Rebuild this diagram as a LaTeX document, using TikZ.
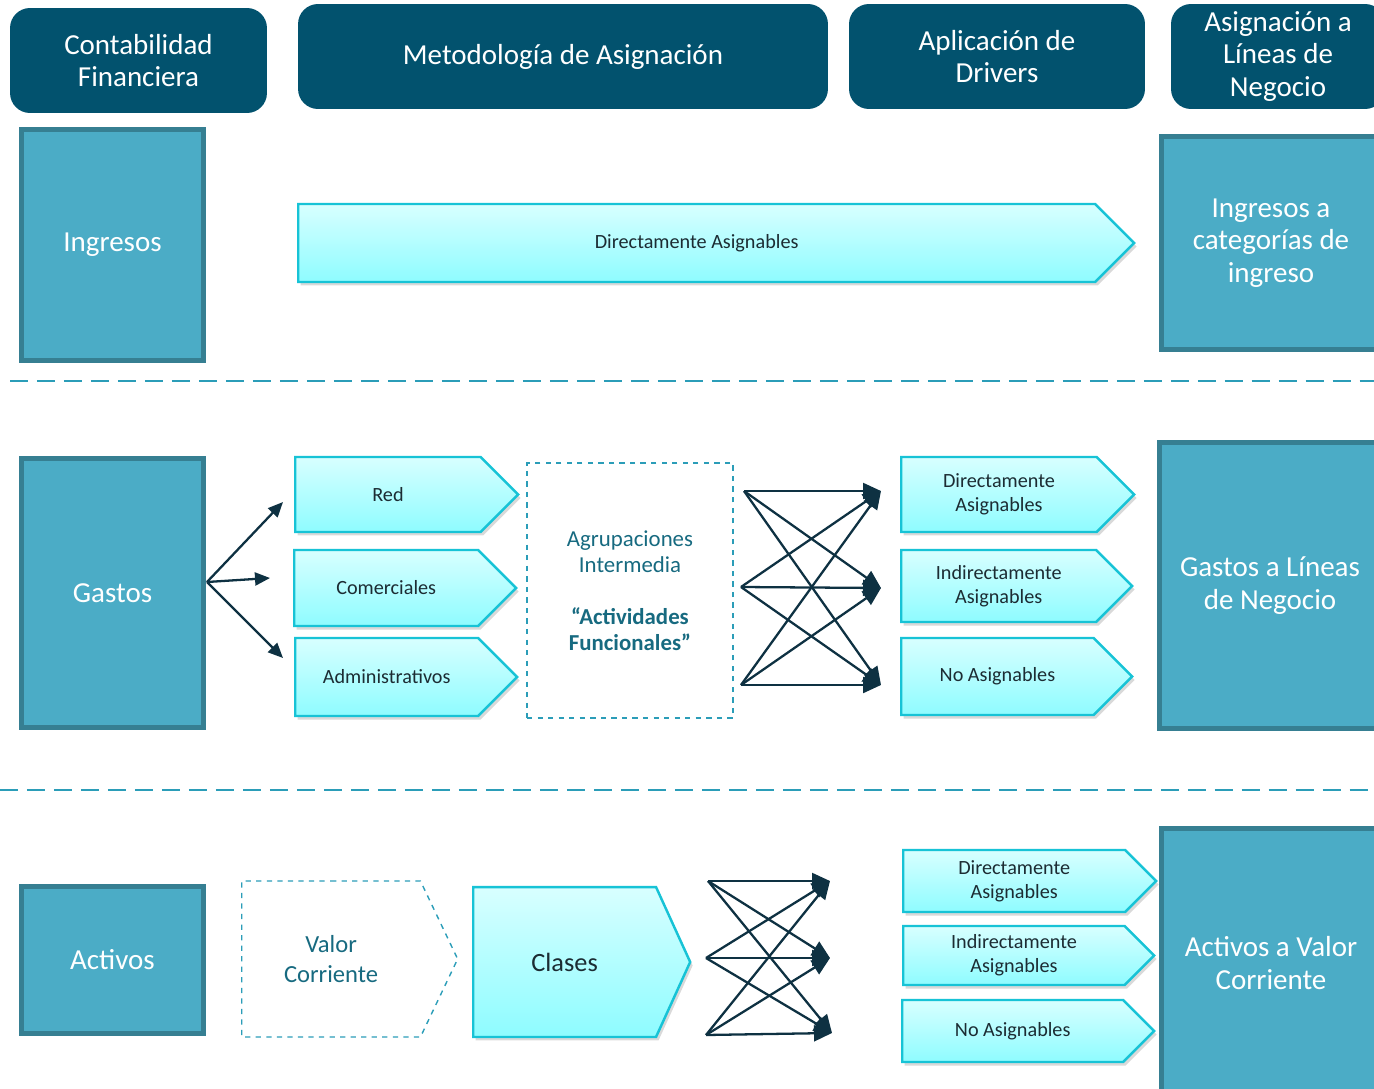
\documentclass[tikz,border=0pt]{standalone}
\usepackage{fontspec}
\setmainfont{Carlito}
\usetikzlibrary{positioning, arrows.meta, shapes.symbols, shadows}
\definecolor{hdrblue}{HTML}{02526E}
\definecolor{srcfill}{HTML}{4BACC6}
\definecolor{srcline}{HTML}{367F92}
\definecolor{tagline}{HTML}{17C3D6}
\definecolor{tagtop}{HTML}{D8FFFF}
\definecolor{tagbot}{HTML}{8EFCFF}
\definecolor{sepline}{HTML}{2B9DB8}
\definecolor{grptext}{HTML}{176A80}
\definecolor{lnkcol}{HTML}{0E3142}
\definecolor{tagtext}{HTML}{1C2C33}

\begin{document}
\begin{tikzpicture}[
  x=0.02cm, y=-0.02cm,
  hdr/.style={fill=hdrblue, rounded corners=0.4cm, text=white, align=center,
              minimum height=2.1cm, inner sep=0pt,
              font=\fontsize{16.5}{18.5}\selectfont},
  src/.style={draw=srcline, line width=2.6pt, fill=srcfill, text=white,
              align=center, inner sep=0pt,
              font=\fontsize{16.5}{18.5}\selectfont},
  tag/.style={shape=signal, signal to=east, signal pointer angle=90,
              anchor=west, draw=tagline, line width=1.4pt, top color=tagtop,
              bottom color=tagbot, text=tagtext, align=center, inner sep=0pt,
              font=\fontsize{11.5}{13.6}\selectfont,
              drop shadow={shadow xshift=0.05cm, shadow yshift=-0.07cm,
                           opacity=0.3}},
  grp/.style={draw=sepline, dashed, line width=0.8pt, text=grptext,
              align=center, inner sep=0pt},
  lnk/.style={draw=lnkcol, line width=1.3pt,
              -{Triangle[length=0.36cm, width=0.32cm]}},
  fan/.style={draw=lnkcol, line width=1.3pt,
              -{Triangle[length=0.3cm, width=0.26cm]}},
  sep/.style={draw=sepline, line width=1.6pt,
              dash pattern=on 0.36cm off 0.18cm}
]
  \path[use as bounding box, clip] (0,0) rectangle (1374,1089);

  % Headers
  \node[hdr, minimum width=5.14cm] (hcf) at (138.5,60.5)
    {Contabilidad\\Financiera};
  \node[hdr, minimum width=10.6cm] (hma) at (563,56.5)
    {Metodología de Asignación};
  \node[hdr, minimum width=5.92cm] (had) at (997,56.5)
    {Aplicación de\\Drivers};
  \node[hdr, minimum width=4.28cm] (hal) at (1278,56.5)
    {Asignación a\\Líneas de\\Negocio};

  % Sources and targets
  \node[src, minimum width=3.64cm, minimum height=4.62cm] (ing) at (112.5,245)
    {Ingresos};
  \node[src, minimum width=3.64cm, minimum height=5.38cm] (gas) at (112.5,593)
    {Gastos};
  \node[src, minimum width=3.64cm, minimum height=2.94cm] (act) at (112.5,960)
    {Activos};
  \node[src, minimum width=4.38cm, minimum height=4.26cm] (ingcat) at (1271,243)
    {Ingresos a\\categorías de\\ingreso};
  \node[src, minimum width=4.42cm, minimum height=5.72cm] (gasln) at (1270,585.5)
    {Gastos a Líneas\\de Negocio};
  \node[src, minimum width=4.38cm, minimum height=5.38cm] (actvc) at (1271,963)
    {Activos a Valor\\Corriente};

  % Ingresos row
  \node[tag, minimum width=16.72cm, minimum height=1.56cm] (diring)
    at (297,243) {Directamente Asignables};

  % Gastos row
  \node[tag, minimum width=4.46cm, minimum height=1.5cm] (red)
    at (294,494.5) {Red};
  \node[tag, minimum width=4.44cm, minimum height=1.52cm] (com)
    at (293,588) {Comerciales};
  \node[tag, minimum width=4.44cm, minimum height=1.56cm] (adm)
    at (294,677) {Administrativos};
  \node[grp, minimum width=4.12cm, minimum height=5.1cm,
        font=\fontsize{13}{14.8}\selectfont] (agr) at (630,590.5)
    {Agrupaciones\\Intermedia\\[14.8pt]\textbf{“Actividades}\\\textbf{Funcionales”}};
  \node[tag, minimum width=4.66cm, minimum height=1.5cm] (dirgas)
    at (900,494.5) {Directamente\\Asignables};
  \node[tag, minimum width=4.62cm, minimum height=1.44cm] (indgas)
    at (900,586) {Indirectamente\\Asignables};
  \node[tag, minimum width=4.62cm, minimum height=1.54cm] (nogas)
    at (900,676.5) {No Asignables};

  % Activos row
  \node[grp, shape=signal, signal to=east, signal pointer angle=129,
        anchor=west, minimum width=4.32cm, minimum height=3.12cm,
        font=\fontsize{14}{17}\selectfont] (valor) at (241,959)
    {Valor\\Corriente};
  \node[tag, signal pointer angle=131, minimum width=4.34cm,
        minimum height=3cm, font=\fontsize{15}{17}\selectfont] (cla)
    at (472,962) {Clases};
  \node[tag, minimum width=5.06cm, minimum height=1.24cm] (diract)
    at (902,881) {Directamente\\Asignables};
  \node[tag, minimum width=5.02cm, minimum height=1.18cm] (indact)
    at (902,955.5) {Indirectamente\\Asignables};
  \node[tag, minimum width=5.04cm, minimum height=1.24cm] (noact)
    at (901,1031) {No Asignables};

  % Separators
  \coordinate (s1a) at (10,381);
  \coordinate (s1b) at (1374,381);
  \coordinate (s2a) at (0,790);
  \coordinate (s2b) at (1374,790);
  \draw[sep] (s1a) -- (s1b);
  \draw[sep] (s2a) -- (s2b);

  % Edges
  \coordinate (gfan) at (207,582);
  \coordinate (tred) at (283,502);
  \coordinate (tcom) at (270,578);
  \coordinate (tadm) at (283,658);
  \foreach \t in {tred, tcom, tadm}
    \draw[fan] (gfan) -- (\t);

  \coordinate (gl1) at (744,491);
  \coordinate (gl2) at (741,587);
  \coordinate (gl3) at (741,685);
  \coordinate (gr1) at (881,491);
  \coordinate (gr2) at (881,588);
  \coordinate (gr3) at (881,685);
  \coordinate (al1) at (708,881);
  \coordinate (al2) at (706,958);
  \coordinate (al3) at (706,1035);
  \coordinate (ar1) at (830,881);
  \coordinate (ar2) at (830,958);
  \coordinate (ar3) at (832,1033);
  \foreach \i in {1,2,3}
    \foreach \j in {1,2,3} {
      \draw[lnk] (gl\i) -- (gr\j);
      \draw[lnk] (al\i) -- (ar\j);
    }
\end{tikzpicture}
\end{document}
